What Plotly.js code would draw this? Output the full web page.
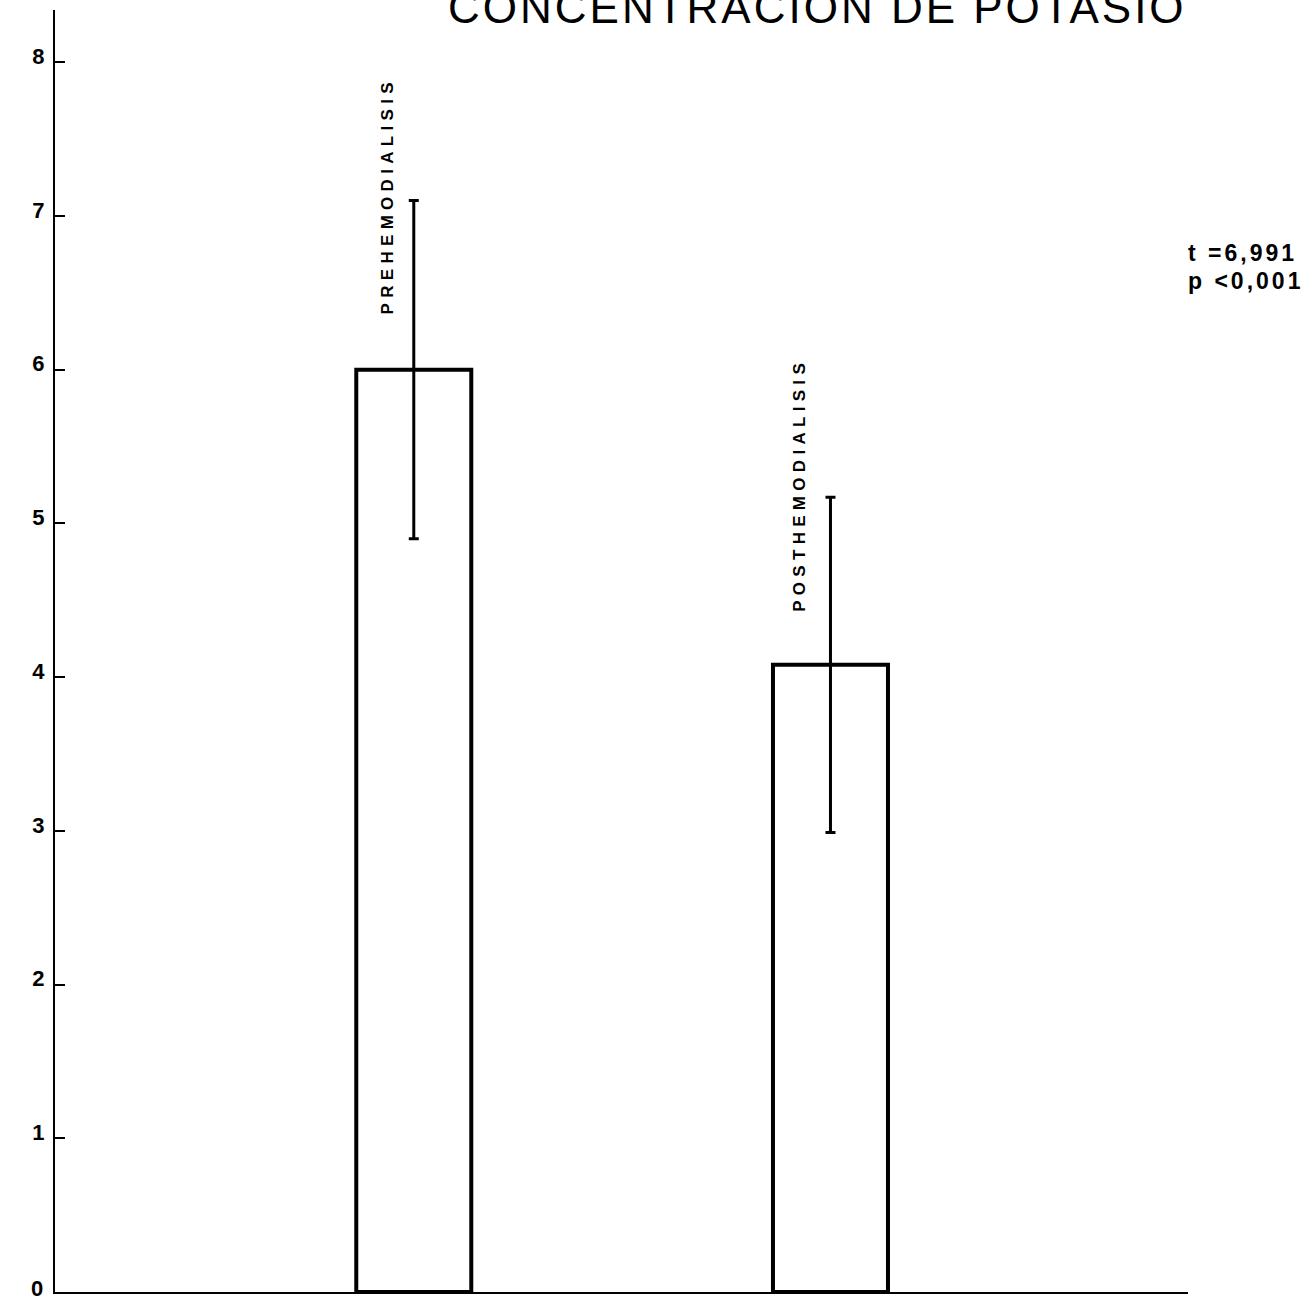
<!DOCTYPE html>
<html>
<head>
<meta charset="utf-8">
<script src="https://cdn.plot.ly/plotly-3.0.1.min.js"></script>
<style>
  html, body { margin: 0; padding: 0; background: #fff; }
  #chart { width: 1314px; height: 1304px; }
  .gtitle { letter-spacing: 3px; }
  .annotation-text.spaced { letter-spacing: 5.3px; }
  .annotation-text.stat { letter-spacing: 3px; }
</style>
</head>
<body>
<div id="chart"></div>
<script>
// ---- data ----
const categories = ["PREHEMODIALISIS", "POSTHEMODIALISIS"];
const meanValues = [6.0, 4.08];
const errorValues = [1.1, 1.09];
const yTickValues = [0, 1, 2, 3, 4, 5, 6, 7, 8];
const yTickLabels = ["0", "1", "2", "3", "4", "5", "6", "7", "8"];
const titleText = "CONCENTRACION DE POTASIO";
const statLines = ["t =6,991", "p <0,001"];

const bars = {
  type: "bar",
  x: categories,
  y: meanValues,
  width: 0.276,
  marker: { color: "rgba(255,255,255,1)", line: { color: "#000", width: 4 } },
  error_y: { type: "data", array: errorValues, visible: true, color: "#000", thickness: 3, width: 5 },
  hoverinfo: "skip",
  showlegend: false
};

const labelAnnotations = categories.map((c, i) => ({
  x: i - (i === 0 ? 0.065 : 0.072),
  y: meanValues[i] + (i === 0 ? 1.13 : 1.17),
  xref: "x", yref: "y",
  text: c,
  textangle: -90,
  showarrow: false,
  font: { family: "Liberation Sans, Arial, sans-serif", size: 17, color: "#000", weight: "bold" },
  xanchor: "center", yanchor: "middle"
}));

const plotW = 1314 - 55 - 126, plotH = 1304 - 10 - 12;
const statAnnotations = statLines.map((s, i) => ({
  x: (1198 - 55) / plotW, y: (1304 - 253 - i * 28 - 12) / plotH,
  xref: "paper", yref: "paper",
  text: s,
  showarrow: false,
  font: { family: "Liberation Sans, Arial, sans-serif", size: 23, color: "#000", weight: "bold" },
  xanchor: "left", yanchor: "middle"
}));

// label for the zero tick (drawn as annotation so it sits at the baseline)
const zeroLabel = {
  x: 0, xref: "paper", xanchor: "right", xshift: -10,
  y: yTickValues[0], yref: "y", yanchor: "middle", yshift: 4,
  text: yTickLabels[0], showarrow: false,
  font: { family: "Liberation Sans, Arial, sans-serif", size: 22, color: "#000", weight: "bold" }
};

const layout = {
  width: 1314, height: 1304,
  margin: { l: 55, r: 126, t: 10, b: 12 },
  paper_bgcolor: "#fff", plot_bgcolor: "#fff",
  title: {
    text: titleText,
    font: { family: "Liberation Sans Narrow, Arial Narrow, Liberation Sans, sans-serif", size: 44, color: "#000" },
    x: 0.622, xanchor: "center", xref: "container",
    y: 0.9945, yanchor: "middle", yref: "container"
  },
  xaxis: {
    type: "category",
    range: [-0.861, 1.858],
    showgrid: false, zeroline: false,
    showline: true, linecolor: "#000", linewidth: 2,
    ticks: "", showticklabels: false, fixedrange: true
  },
  yaxis: {
    range: [0, 8.34],
    tickvals: yTickValues.slice(1), ticktext: yTickLabels.slice(1),
    showgrid: false, zeroline: false,
    showline: true, linecolor: "#000", linewidth: 2,
    ticks: "inside", ticklen: 10, tickwidth: 2, tickcolor: "#000",
    tickfont: { family: "Liberation Sans, Arial, sans-serif", size: 22, color: "#000", weight: "bold" },
    ticklabelshift: -6,
    ticklabelstandoff: 4,
    fixedrange: true
  },
  annotations: labelAnnotations.concat(statAnnotations, [zeroLabel]),
  bargap: 0
};

Plotly.newPlot("chart", [bars], layout, { displayModeBar: false, staticPlot: true }).then(() => {
  document.querySelectorAll(".annotation-text").forEach((el) => {
    const t = el.textContent;
    if (categories.indexOf(t) >= 0) el.classList.add("spaced");
    if (statLines.indexOf(t) >= 0) el.classList.add("stat");
  });
});
</script>
</body>
</html>
